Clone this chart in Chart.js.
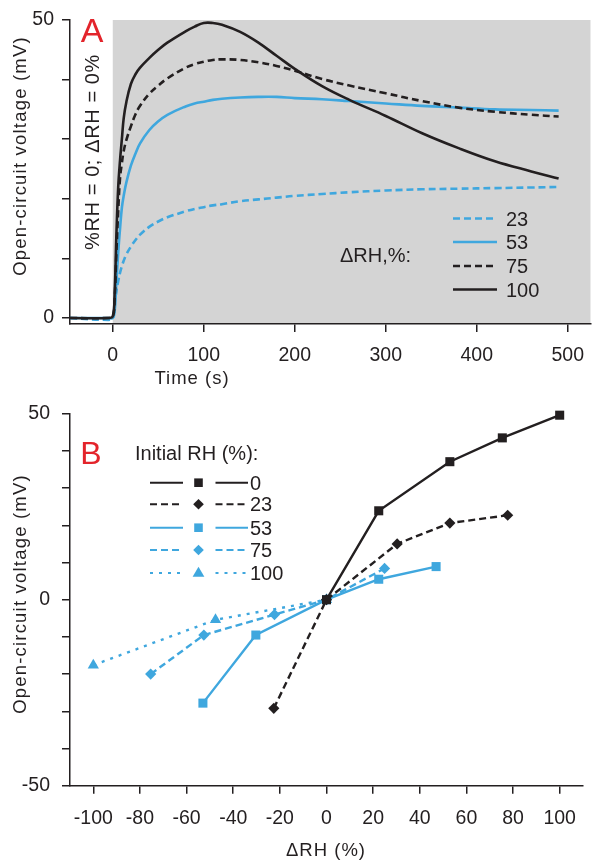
<!DOCTYPE html>
<html><head><meta charset="utf-8">
<script src="https://cdn.jsdelivr.net/npm/chart.js@4.4.1/dist/chart.umd.min.js"></script>
<style>body{margin:0;background:#fff;width:596px;height:860px;overflow:hidden}canvas{display:block}</style>
</head><body>
<canvas id="a" width="596" height="390"></canvas>
<canvas id="b" width="596" height="470"></canvas>
<script>
const FONT = '"Liberation Sans", Arial, sans-serif';
const INK = '#231f20', BLUE = '#3fa7de', RED = '#e3242b', GRAY = '#d4d4d4';

// ---------- Panel A data ----------
const timeS  = [-47, -5, 0, 2, 4, 6, 8, 10, 12, 15, 20, 25, 30, 40, 50, 60, 80, 90, 100, 110, 120, 140, 160, 180, 200, 230, 260, 300, 340, 380, 420, 460, 490];
const dRH23  = [0, -0.3, 0, 2.5, 4.5, 6.2, 7.6, 8.7, 9.6, 10.7, 12, 13.1, 14, 15.3, 16.2, 16.9, 17.9, 18.3, 18.6, 18.9, 19.1, 19.6, 19.9, 20.2, 20.5, 20.8, 21.1, 21.4, 21.6, 21.7, 21.8, 21.9, 22.0];
const dRH53  = [0, 0, 0, 1, 6, 11, 15, 18.5, 20.5, 22.8, 25.6, 27.6, 29.3, 31.5, 33, 34.1, 35.5, 36, 36.3, 36.6, 36.8, 37, 37.1, 37.1, 36.9, 36.7, 36.4, 36, 35.6, 35.3, 35, 34.9, 34.8];
const dRH75  = [0, 0, 0.2, 3, 11, 18, 23.5, 26, 28, 29.9, 32.2, 34.2, 35.6, 37.6, 39, 40.2, 42, 42.6, 43, 43.3, 43.4, 43.3, 42.9, 42.3, 41.5, 40.1, 39, 37.7, 36.4, 35.3, 34.6, 34.1, 33.8];
const dRH100 = [0, 0, 0.3, 4, 14, 22, 26.5, 30, 33.5, 36.3, 39.3, 40.9, 42.0, 43.6, 45.0, 46.2, 48.1, 48.9, 49.5, 49.5, 49.2, 48.0, 46.2, 44.0, 41.8, 38.9, 36.6, 33.9, 31, 28.5, 26.3, 24.6, 23.4];
const legendA = ['23', '53', '75', '100'];
const xTicksA = [0, 100, 200, 300, 400, 500];
const yTicksA = [0, 10, 20, 30, 40, 50];
const yLabelsA = [0, 50];

// ---------- Panel B data ----------
const rh0X   = [0, 22.4, 52.9, 75.4, 100];
const rh0Y   = [0, 23.9, 37.1, 43.5, 49.6];
const rh23X  = [-22.6, 0, 30.3, 52.9, 77.7];
const rh23Y  = [-29.2, 0, 15.0, 20.6, 22.7];
const rh53X  = [-53, -30.3, 0, 22.4, 47];
const rh53Y  = [-27.8, -9.5, 0, 5.5, 8.9];
const rh75X  = [-75.4, -52.6, -22.3, 0, 24.9];
const rh75Y  = [-20, -9.5, -4, 0, 8.4];
const rh100X = [-100, -47.6, 0];
const rh100Y = [-17.6, -5.4, 0];
const legendB = ['0', '23', '53', '75', '100'];
const xTicksB = [-100, -80, -60, -40, -20, 0, 20, 40, 60, 80, 100];
const yTicksB = [-50, -40, -30, -20, -10, 0, 10, 20, 30, 40, 50];
const yLabelsB = [-50, 0, 50];

const pts = (xs, ys) => xs.map((x, i) => ({x, y: ys[i]}));

function txt(ctx, s, x, y, o = {}) {
  ctx.save();
  ctx.font = o.font || ('18px ' + FONT);
  ctx.fillStyle = o.color || INK;
  ctx.textAlign = o.align || 'left';
  ctx.textBaseline = o.base || 'alphabetic';
  ctx.letterSpacing = (o.ls || 0) + 'px';
  ctx.translate(x, y);
  if (o.rot) ctx.rotate(o.rot);
  ctx.fillText(s, 0, 0);
  ctx.restore();
}
function seg(ctx, x1, x2, y, color, dash, w) {
  ctx.save(); ctx.strokeStyle = color; ctx.lineWidth = w || 2.2; ctx.setLineDash(dash || []);
  ctx.beginPath(); ctx.moveTo(x1, y); ctx.lineTo(x2, y); ctx.stroke(); ctx.restore();
}
function marker(ctx, style, x, y, color, r) {
  ctx.save(); ctx.fillStyle = color; ctx.beginPath();
  if (style === 'rect') { const s = r * Math.SQRT1_2; ctx.rect(x - s, y - s, 2 * s, 2 * s); }
  else if (style === 'rectRot') { ctx.moveTo(x, y - r); ctx.lineTo(x + r, y); ctx.lineTo(x, y + r); ctx.lineTo(x - r, y); ctx.closePath(); }
  else { ctx.moveTo(x, y - r); ctx.lineTo(x + r * 0.95, y + r * 0.6); ctx.lineTo(x - r * 0.95, y + r * 0.6); ctx.closePath(); }
  ctx.fill(); ctx.restore();
}

const axisCommon = (ticksArr, labels, pad) => ({
  type: 'linear',
  afterBuildTicks: s => { s.ticks = ticksArr.map(v => ({value: v})); },
  grid: {drawOnChartArea: false, drawTicks: true, tickLength: 8, color: INK, lineWidth: 1.5},
  border: {display: true, color: INK, width: 1.5},
  ticks: {color: INK, font: {family: FONT, size: 19.5}, padding: pad, maxRotation: 0, autoSkip: false,
          callback: v => (labels === null || labels.includes(v)) ? String(v) : ''}
});

// ---------- Chart A ----------
const stylesA = {
  '100': {color: INK, dash: []},
  '75':  {color: INK, dash: [7, 4]},
  '53':  {color: BLUE, dash: []},
  '23':  {color: BLUE, dash: [7, 4]}
};
const valsA = {'23': dRH23, '53': dRH53, '75': dRH75, '100': dRH100};

const pluginA = {
  id: 'decorA',
  beforeDraw(c) {
    const {ctx, chartArea: a, scales: {x}} = c;
    const x0 = x.getPixelForValue(0);
    ctx.save(); ctx.fillStyle = GRAY; ctx.fillRect(x0, a.top, a.right - x0, a.bottom - a.top); ctx.restore();
  },
  afterDraw(c) {
    const ctx = c.ctx;
    txt(ctx, 'A', 92, 42, {font: '34px ' + FONT, color: RED, align: 'center'});
    txt(ctx, 'Open-circuit voltage (mV)', 25.5, 156, {font: '18.5px ' + FONT, align: 'center', rot: -Math.PI / 2, ls: 1.2});
    txt(ctx, '%RH = 0; ΔRH = 0%', 98.5, 152, {font: '20px ' + FONT, align: 'center', rot: -Math.PI / 2, ls: 0.6});
    txt(ctx, 'Time (s)', 192, 384, {font: '18.5px ' + FONT, align: 'center', ls: 1});
    txt(ctx, 'ΔRH,%:', 340, 261.5, {font: '20px ' + FONT});
    const ys = [218.5, 242, 266, 289.5];
    legendA.forEach((k, i) => {
      seg(ctx, 453, 497, ys[i], stylesA[k].color, stylesA[k].dash, 2.5);
      txt(ctx, k, 506, ys[i] + 7, {font: '20px ' + FONT});
    });
  }
};

new Chart(document.getElementById('a'), {
  type: 'line',
  data: {
    datasets: ['100', '75', '53', '23'].map(k => ({
      label: k, data: pts(timeS, valsA[k]),
      borderColor: stylesA[k].color, borderDash: stylesA[k].dash, borderWidth: 2.6,
      pointRadius: 0, tension: 0.4, fill: false
    }))
  },
  options: {
    responsive: false, animation: false, devicePixelRatio: 1,
    layout: {padding: {top: 20, right: 0, left: 0, bottom: 0}},
    plugins: {legend: {display: false}, tooltip: {enabled: false}},
    scales: {
      x: Object.assign(axisCommon(xTicksA, null, 12), {min: -47, max: 525, afterFit: s => { s.height = 66; }}),
      y: Object.assign(axisCommon(yTicksA, yLabelsA, 8), {min: -1, max: 50, afterFit: s => { s.width = 70; }})
    }
  },
  plugins: [pluginA]
});

// ---------- Chart B ----------
const setsB = [
  {label: '0',   xs: rh0X,   ys: rh0Y,   color: INK,  dash: [],     pt: 'rect',    r: 6.4},
  {label: '23',  xs: rh23X,  ys: rh23Y,  color: INK,  dash: [7, 4], pt: 'rectRot', r: 5.6},
  {label: '53',  xs: rh53X,  ys: rh53Y,  color: BLUE, dash: [],     pt: 'rect',    r: 6.4},
  {label: '75',  xs: rh75X,  ys: rh75Y,  color: BLUE, dash: [7, 4], pt: 'rectRot', r: 5.6},
  {label: '100', xs: rh100X, ys: rh100Y, color: BLUE, dash: [3, 6], pt: 'triangle', r: 6.5}
];

const pluginB = {
  id: 'decorB',
  afterDraw(c) {
    const ctx = c.ctx;
    txt(ctx, 'B', 91, 74, {font: '32px ' + FONT, color: RED, align: 'center'});
    txt(ctx, 'Open-circuit voltage (mV)', 25.5, 204, {font: '18.5px ' + FONT, align: 'center', rot: -Math.PI / 2, ls: 1.2});
    txt(ctx, 'ΔRH (%)', 326, 466, {font: '18.5px ' + FONT, align: 'center', ls: 1});
    txt(ctx, 'Initial RH (%):', 135, 70, {font: '20px ' + FONT});
    const ys = [92.7, 114.3, 137.7, 160, 183];
    setsB.forEach((d, i) => {
      seg(ctx, 150, 183, ys[i], d.color, d.dash, 2);
      marker(ctx, d.pt, 198.5, ys[i], d.color, d.r * 0.95);
      seg(ctx, 215.5, 248, ys[i], d.color, d.dash, 2);
      txt(ctx, legendB[i], 250, ys[i] + 7, {font: '20px ' + FONT});
    });
  }
};

new Chart(document.getElementById('b'), {
  type: 'line',
  data: {
    datasets: setsB.map(d => ({
      label: d.label, data: pts(d.xs, d.ys),
      borderColor: d.color, backgroundColor: d.color, borderDash: d.dash, borderWidth: 2.4,
      pointStyle: d.pt, pointRadius: d.r, pointBorderWidth: 0, pointBackgroundColor: d.color,
      tension: 0, fill: false, clip: false
    }))
  },
  options: {
    responsive: false, animation: false, devicePixelRatio: 1,
    layout: {padding: {top: 16.7, right: 13, left: 0, bottom: 0}},
    plugins: {legend: {display: false}, tooltip: {enabled: false}},
    scales: {
      x: Object.assign(axisCommon(xTicksB, null, 13), {min: -110, max: 110, afterFit: s => { s.height = 74.3; }}),
      y: Object.assign(axisCommon(yTicksB, yLabelsB, 12), {min: -50, max: 50, afterFit: s => { s.width = 70; }})
    }
  },
  plugins: [pluginB]
});
</script>
</body></html>
